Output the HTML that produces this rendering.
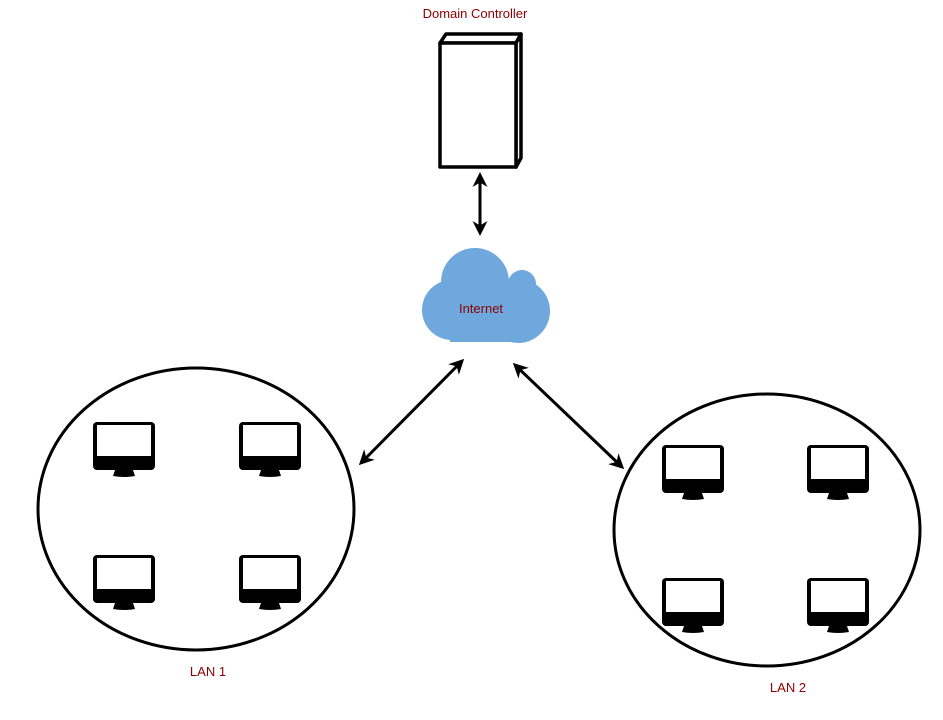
<!DOCTYPE html>
<html><head><style>
body{margin:0;background:#fff;width:943px;height:715px;overflow:hidden}
text{font-family:"Liberation Sans",sans-serif;fill:#8b0000;font-size:13px}
</style></head><body>
<svg width="943" height="715" viewBox="0 0 943 715">
<defs>
<marker id="a" viewBox="0 0 10 10" refX="8" refY="5" markerWidth="5" markerHeight="5" orient="auto-start-reverse"><path d="M0,0 L10,5 L0,10 L3,5z" fill="#000"/></marker>
<g id="m">
<rect x="0" y="0" width="62" height="48" rx="4" fill="#000"/>
<rect x="4" y="3" width="54" height="31" fill="#fff"/>
<path d="M22,48 L40,48 L42,54 Q31,56 20,54z" fill="#000"/>
</g>
</defs>
<text x="475" y="18" text-anchor="middle" font-size="12">Domain Controller</text>
<g fill="#fff" stroke="#000" stroke-width="3.5" stroke-linejoin="round">
<path d="M440,43 L446,34 L521,34 L516,43z"/>
<path d="M516,43 L521,34 L521,158 L516,167z"/>
<rect x="440" y="43" width="76" height="124"/>
</g>
<g stroke="#000" stroke-width="3" marker-start="url(#a)" marker-end="url(#a)">
<line x1="480" y1="175" x2="480" y2="233"/>
<line x1="462" y1="361" x2="361" y2="463"/>
<line x1="515" y1="365" x2="622" y2="467"/>
</g>
<g fill="#6fa8dc">
<circle cx="475" cy="282" r="34"/>
<circle cx="522" cy="284" r="14"/>
<circle cx="452" cy="310" r="30"/>
<circle cx="518" cy="311" r="32"/>
<rect x="450" y="290" width="70" height="52"/>
</g>
<text x="481" y="313" text-anchor="middle">Internet</text>
<ellipse cx="196" cy="509" rx="158" ry="141" fill="none" stroke="#000" stroke-width="3"/>
<ellipse cx="767" cy="530" rx="153" ry="136" fill="none" stroke="#000" stroke-width="3"/>
<use href="#m" x="93" y="422"/><use href="#m" x="239" y="422"/>
<use href="#m" x="93" y="555"/><use href="#m" x="239" y="555"/>
<use href="#m" x="662" y="445"/><use href="#m" x="807" y="445"/>
<use href="#m" x="662" y="578"/><use href="#m" x="807" y="578"/>
<text x="208" y="676" text-anchor="middle">LAN 1</text>
<text x="788" y="692" text-anchor="middle">LAN 2</text>
</svg>
</body></html>
